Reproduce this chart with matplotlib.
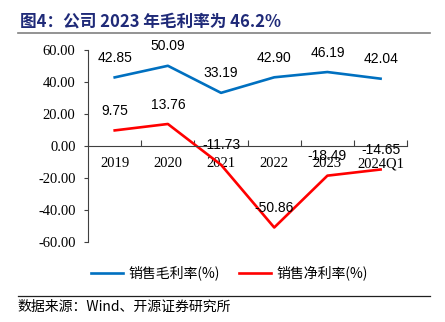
import matplotlib.pyplot as plt
import numpy as np

plt.rcParams['font.family'] = ['Liberation Serif', 'Noto Sans CJK SC']

categories = ['2019', '2020', '2021', '2022', '2023', '2024Q1']
grossMargin = [42.85, 50.09, 33.19, 42.90, 46.19, 42.04]
netMargin = [9.75, 13.76, -11.73, -50.86, -18.49, -14.65]
yTicks = [60, 40, 20, 0, -20, -40, -60]

cjk = ['Noto Sans CJK SC', 'DejaVu Sans']
blue = '#0070C0'
red = '#FF0000'

fig = plt.figure(figsize=(4.45, 3.22), dpi=100)
ax = fig.add_axes([0.198, 0.248, 0.717, 0.597])

x = np.arange(len(categories))
ax.plot(x, grossMargin, color=blue, linewidth=1.9, label='销售毛利率(%)')
ax.plot(x, netMargin, color=red, linewidth=1.9, label='销售净利率(%)')

# Data labels above each point
for xi, v in zip(x, grossMargin):
    ax.annotate(f'{v:.2f}', xy=(xi, v), xytext=(0, 14), textcoords='offset points',
                ha='center', va='center', fontsize=10, family='Liberation Sans')
for xi, v in zip(x, netMargin):
    ax.annotate(f'{v:.2f}', xy=(xi, v), xytext=(0, 14), textcoords='offset points',
                ha='center', va='center', fontsize=10, family='Liberation Sans')

ax.set_xlim(-0.5, len(categories) - 0.5)
ax.set_ylim(-60, 60)
ax.set_yticks(yTicks)
ax.set_yticklabels([f'{t:.2f}' for t in yTicks], fontsize=10.5)

# x axis sits on zero, ticks at category boundaries, labels at centers
ax.spines['bottom'].set_position(('data', 0))
ax.spines['top'].set_visible(False)
ax.spines['right'].set_visible(False)
ax.spines['left'].set_color('#404040')
ax.spines['bottom'].set_color('#404040')
ax.set_xticks(np.arange(-0.5, len(categories), 1.0))
ax.set_xticklabels([])
ax.tick_params(axis='x', which='major', direction='in', length=4, color='#404040')
ax.set_xticks(x, minor=True)
ax.set_xticklabels(categories, minor=True, fontsize=10.5)
ax.tick_params(axis='x', which='minor', length=0, pad=8)
ax.tick_params(axis='y', direction='out', length=3, color='#404040', pad=6)

leg = fig.legend(loc='center', bbox_to_anchor=(0.515, 0.152), ncol=2, frameon=False,
                 prop={'family': cjk, 'size': 10}, handlelength=2.3, columnspacing=1.4,
                 handletextpad=0.4)

# Title and rules
fig.text(0.045, 0.932, '图4：公司 2023 年毛利率为 46.2%', fontsize=12, fontweight='bold',
         color='#1F2A78', family=cjk, va='center')
fig.add_artist(plt.Line2D([0.04, 0.966], [0.898, 0.898], color='#808080', linewidth=1.2))
fig.add_artist(plt.Line2D([0.04, 0.966], [0.08, 0.08], color='#202020', linewidth=0.9))
fig.text(0.04, 0.046, '数据来源：Wind、开源证券研究所', fontsize=10, family=cjk, va='center')

plt.savefig('out.png', dpi=100)
